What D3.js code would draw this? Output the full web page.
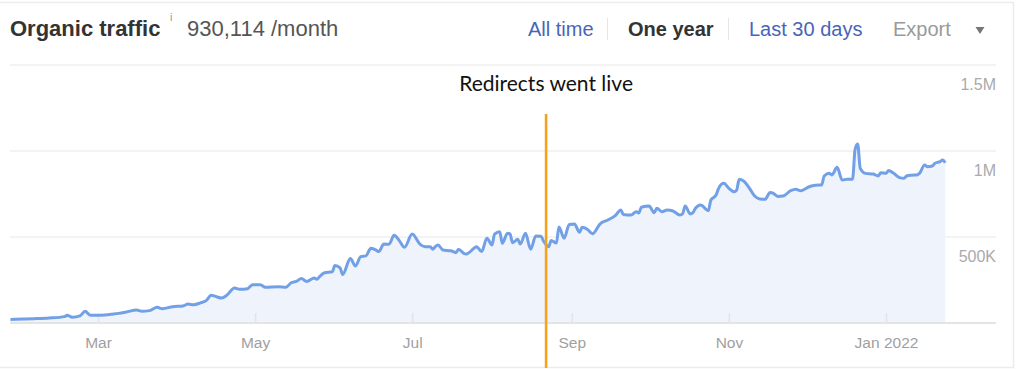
<!DOCTYPE html>
<html>
<head>
<meta charset="utf-8">
<script src="https://cdn.jsdelivr.net/npm/d3@7"></script>
<style>
  html, body { margin: 0; padding: 0; background: #fff; }
  svg { display: block; font-family: "Liberation Sans", Arial, sans-serif; }
</style>
</head>
<body>
<svg id="chart" width="1016" height="370"></svg>
<script>
// organic traffic, thousands of visits / month
const dates = [
  "2021-01-26","2021-02-04","2021-02-10","2021-02-16","2021-02-17","2021-02-19","2021-02-22","2021-02-24","2021-02-26",
  "2021-03-02","2021-03-07","2021-03-09","2021-03-12","2021-03-16","2021-03-18","2021-03-21","2021-03-24","2021-03-26","2021-03-30",
  "2021-04-03","2021-04-05","2021-04-07","2021-04-10","2021-04-12","2021-04-14","2021-04-16","2021-04-18","2021-04-20","2021-04-23","2021-04-25","2021-04-28","2021-04-30",
  "2021-05-03","2021-05-05","2021-05-10","2021-05-13","2021-05-15","2021-05-17","2021-05-19","2021-05-21","2021-05-24","2021-05-25","2021-05-26","2021-05-28","2021-05-31",
  "2021-06-01","2021-06-03","2021-06-04","2021-06-07","2021-06-09","2021-06-11","2021-06-13","2021-06-15","2021-06-17","2021-06-18","2021-06-20","2021-06-22","2021-06-24","2021-06-26","2021-06-28",
  "2021-07-01","2021-07-04","2021-07-06","2021-07-08","2021-07-09","2021-07-10","2021-07-11","2021-07-13","2021-07-16","2021-07-18","2021-07-19","2021-07-21","2021-07-22","2021-07-25","2021-07-26","2021-07-28","2021-07-30",
  "2021-08-01","2021-08-02","2021-08-04","2021-08-05","2021-08-07","2021-08-08","2021-08-09","2021-08-11","2021-08-12","2021-08-14","2021-08-16","2021-08-18","2021-08-20","2021-08-21","2021-08-23","2021-08-24","2021-08-26","2021-08-27","2021-08-29","2021-08-31",
  "2021-09-02","2021-09-04","2021-09-05","2021-09-07","2021-09-09","2021-09-12","2021-09-15","2021-09-18","2021-09-20","2021-09-21","2021-09-24","2021-09-26","2021-09-27","2021-09-28",
  "2021-10-01","2021-10-03","2021-10-04","2021-10-06","2021-10-08","2021-10-10","2021-10-13","2021-10-14","2021-10-15","2021-10-17","2021-10-18","2021-10-19","2021-10-21","2021-10-24","2021-10-25","2021-10-27","2021-10-28","2021-10-30",
  "2021-11-01","2021-11-03","2021-11-04","2021-11-05","2021-11-07","2021-11-09","2021-11-11","2021-11-13","2021-11-15","2021-11-17","2021-11-18","2021-11-20","2021-11-22","2021-11-25","2021-11-27","2021-11-29",
  "2021-12-01","2021-12-03","2021-12-06","2021-12-07","2021-12-08","2021-12-10","2021-12-11","2021-12-13","2021-12-15","2021-12-17","2021-12-19","2021-12-20","2021-12-21","2021-12-22","2021-12-24","2021-12-27","2021-12-29","2021-12-30",
  "2022-01-01","2022-01-02","2022-01-04","2022-01-06","2022-01-08","2022-01-09","2022-01-11","2022-01-13","2022-01-14","2022-01-16","2022-01-17","2022-01-19","2022-01-20","2022-01-22","2022-01-23","2022-01-24"
];
const traffic = [
  21, 25, 29, 37, 45, 33, 41, 68, 45,
  45, 52, 56, 64, 76, 68, 72, 91, 83, 95,
  99, 110, 106, 118, 130, 161, 153, 145, 161, 204, 196, 199, 223,
  223, 208, 211, 208, 234, 242, 258, 242, 262, 254, 269, 292, 298,
  334, 320, 282, 375, 331, 386, 390, 434, 424, 415, 459, 458, 510, 479, 440,
  517, 459, 444, 444, 429, 444, 454, 424, 420, 409, 429, 405, 401, 434, 444, 415, 493,
  454, 517, 531, 463, 522, 517, 467, 487, 459, 522, 429, 506, 504, 477, 444, 480, 465, 558, 493, 573,
  576, 528, 556, 545, 519, 577, 599, 626, 657, 631, 628, 647, 640, 673,
  680, 641, 667, 647, 657, 653, 628, 634, 680, 634, 641, 667, 686, 653, 715, 744, 783, 812,
  783, 763, 773, 836, 822, 783, 738, 721, 719, 758, 756, 736, 738, 769, 777, 769,
  783, 797, 802, 802, 855, 870, 861, 905, 831, 836, 836, 1010, 1041, 899, 870, 866, 855, 874,
  870, 886, 870, 847, 841, 855, 859, 861, 870, 919, 909, 913, 929, 938, 948, 932
];

const xTicks = ["2021-03-01", "2021-05-01", "2021-07-01", "2021-09-01", "2021-11-01", "2022-01-01"];
const xTickLabels = ["Mar", "May", "Jul", "Sep", "Nov", "Jan 2022"];
const yTicks = [500, 1000, 1500];
const yTickLabels = ["500K", "1M", "1.5M"];

const ranges = ["All time", "One year", "Last 30 days"];
const activeRange = "One year";
const redirectDate = "2021-08-22";
const redirectLabel = "Redirects went live";

const parse = d3.timeParse("%Y-%m-%d");
const data = dates.map((d, i) => ({ date: parse(d), value: traffic[i] }));

const svg = d3.select("#chart");

const x = d3.scaleTime()
  .domain([parse("2021-03-01"), parse("2022-01-01")])
  .range([98, 886]);
const y = d3.scaleLinear().domain([0, 1500]).range([323, 65]);

// card edges
svg.append("path")
  .attr("d", "M0,2.5H1013.5V367.5H0")
  .attr("fill", "none")
  .attr("stroke", "#ececec")
  .attr("stroke-width", 1.5);

// header
const header = svg.append("g");
header.append("text")
  .attr("x", 10).attr("y", 36)
  .attr("font-size", 22).attr("font-weight", "bold").attr("fill", "#333")
  .text("Organic traffic");
header.append("text")
  .attr("x", 170).attr("y", 21)
  .attr("font-size", 11).attr("fill", "#999")
  .text("i");
header.append("text")
  .attr("x", 187).attr("y", 36)
  .attr("font-size", 22).attr("fill", "#555")
  .text("930,114 /month");

const navX = [528, 628, 749];
ranges.forEach((r, i) => {
  header.append("text")
    .attr("x", navX[i]).attr("y", 36)
    .attr("font-size", 20)
    .attr("font-weight", r === activeRange ? "bold" : "normal")
    .attr("fill", r === activeRange ? "#333" : "#4765b8")
    .text(r);
});
[607.5, 728.5].forEach(sx => {
  header.append("line")
    .attr("x1", sx).attr("x2", sx).attr("y1", 18).attr("y2", 40)
    .attr("stroke", "#e6e6e6").attr("stroke-width", 1);
});
header.append("text")
  .attr("x", 893).attr("y", 36)
  .attr("font-size", 20).attr("fill", "#9a9a9a")
  .text("Export");
header.append("path")
  .attr("d", "M975.5,27H984.5L980,34Z")
  .attr("fill", "#777");

// gridlines + y labels
svg.append("g")
  .selectAll("line")
  .data(yTicks)
  .join("line")
  .attr("x1", 10).attr("x2", 996)
  .attr("y1", d => y(d)).attr("y2", d => y(d))
  .attr("stroke", "#efefef").attr("stroke-width", 1.5);

svg.append("g")
  .selectAll("text")
  .data(yTicks)
  .join("text")
  .attr("x", 996)
  .attr("y", d => y(d) + 25)
  .attr("text-anchor", "end")
  .attr("font-size", 16)
  .attr("fill", "#aaa")
  .text((d, i) => yTickLabels[i]);

// area + line
const area = d3.area()
  .curve(d3.curveMonotoneX)
  .x(d => x(d.date))
  .y0(y(0))
  .y1(d => y(d.value));
const line = d3.line()
  .curve(d3.curveMonotoneX)
  .x(d => x(d.date))
  .y(d => y(d.value));

svg.append("path")
  .datum(data)
  .attr("d", area)
  .attr("fill", "#eef3fc");

// x axis
svg.append("line")
  .attr("x1", 10).attr("x2", 996)
  .attr("y1", y(0)).attr("y2", y(0))
  .attr("stroke", "#e4e4e4").attr("stroke-width", 2);

const xAxis = svg.append("g")
  .attr("transform", `translate(0,${y(0)})`)
  .call(d3.axisBottom(x)
    .tickValues(xTicks.map(parse))
    .tickFormat((d, i) => xTickLabels[i])
    .tickSizeInner(-10)
    .tickSizeOuter(0)
    .tickPadding(14));
xAxis.select(".domain").remove();
xAxis.selectAll(".tick line").attr("stroke", "#e4e4e4").attr("stroke-width", 1.5);
xAxis.selectAll(".tick text")
  .attr("fill", "#a0a0a0")
  .attr("font-size", 15.5)
  .attr("font-family", "'Liberation Sans', Arial, sans-serif");

svg.append("path")
  .datum(data)
  .attr("d", line)
  .attr("fill", "none")
  .attr("stroke", "#72a0e6")
  .attr("stroke-width", 3)
  .attr("stroke-linejoin", "round");

// annotation
const rx = x(parse(redirectDate));
svg.append("line")
  .attr("x1", rx).attr("x2", rx)
  .attr("y1", 114).attr("y2", 368)
  .attr("stroke", "#f5a21c")
  .attr("stroke-width", 2.6);
svg.append("text")
  .attr("x", rx).attr("y", 91)
  .attr("text-anchor", "middle")
  .attr("font-family", "Lato, 'Open Sans', sans-serif")
  .attr("font-size", 21)
  .attr("fill", "#111")
  .text(redirectLabel);
</script>
</body>
</html>
